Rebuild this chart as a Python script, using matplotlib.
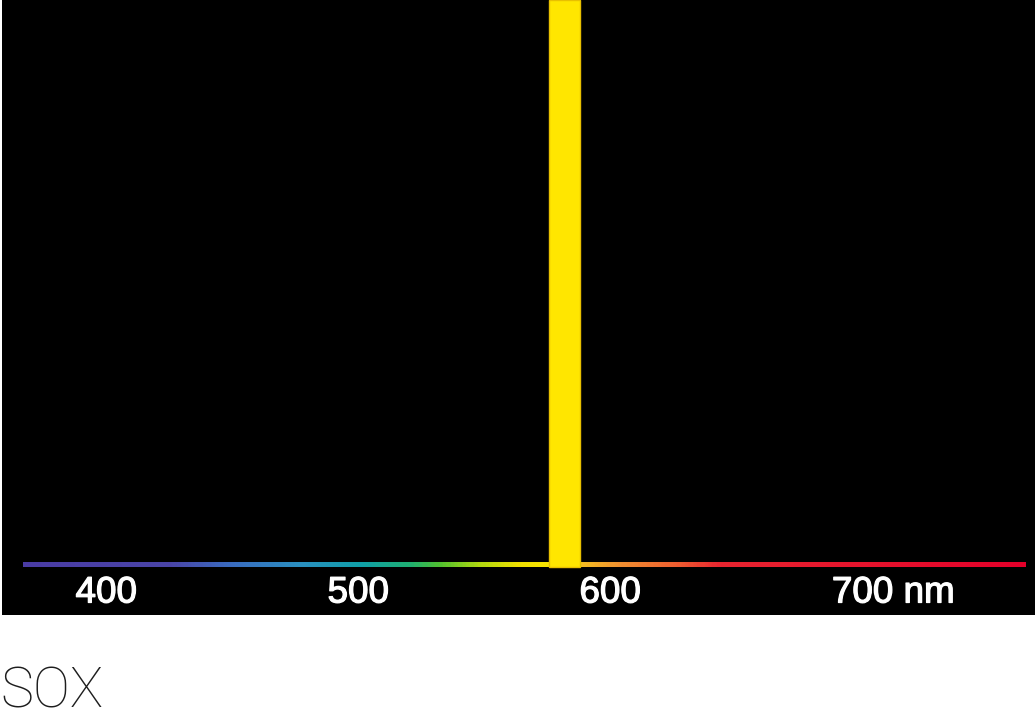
import matplotlib
matplotlib.use("Agg")
import matplotlib.pyplot as plt
import matplotlib.patheffects as pe
import numpy as np
from matplotlib.colors import LinearSegmentedColormap

# spectrum shown (nm) and the low pressure sodium emission band
spectrum_range = (367, 765)
sodium_band = (576, 588)
tick_values = [400, 500, 600, 700]
tick_labels = ["400", "500", "600", "700 nm"]
lamp_name = "SOX"

# colour stops along the spectrum bar (wavelength, colour)
stop_nm = [367, 425, 449, 477, 501, 521, 532, 548, 564, 576, 588, 604, 628, 644, 765]
stop_col = ["#4b3ca5", "#4a45a8", "#3a6cc0", "#2a90c0", "#10a0a8", "#20b070",
            "#50c030", "#b0d810", "#f0e000", "#f8e400", "#f5c020", "#f09030",
            "#ee5a30", "#e82530", "#e4002a"]

W, H = 1035, 722
fig = plt.figure(figsize=(W / 100, H / 100), dpi=100, facecolor="white")

# black panel, y axis in pixels from the bottom of the panel
ax = fig.add_axes([2 / W, (H - 615) / H, 1 - 2 / W, 615 / H])
ax.set_facecolor("black")
ax.set_xlim(358.7, 768.7)
ax.set_ylim(0, 615)
ax.set_xticks([])
ax.set_yticks([])
for s in ax.spines.values():
    s.set_visible(False)

lo, hi = spectrum_range
pos = [(v - lo) / (hi - lo) for v in stop_nm]
cmap = LinearSegmentedColormap.from_list("spec", list(zip(pos, stop_col)))
ax.imshow(np.linspace(0, 1, 600)[None, :], cmap=cmap, aspect="auto",
          extent=[lo, hi, 48, 53], interpolation="bilinear", zorder=2)

# the sodium line
ax.bar((sodium_band[0] + sodium_band[1]) / 2, 615 - 48, bottom=48,
       width=sodium_band[1] - sodium_band[0], color="#ffe600",
       edgecolor="#e8c000", linewidth=1.0, zorder=3)

thick = [pe.withStroke(linewidth=0.9, foreground="white")]
for v, lab in zip(tick_values, tick_labels):
    if lab.endswith("nm"):
        ax.annotate(lab, (v, 22), xytext=(-30, 0), textcoords="offset pixels",
                    ha="left", va="center", color="white", fontsize=26.5,
                    family=["Liberation Sans", "DejaVu Sans"], path_effects=thick)
    else:
        ax.text(v, 22, lab, ha="center", va="center", color="white",
                fontsize=26.5, family=["Liberation Sans", "DejaVu Sans"],
                path_effects=thick)

fig.text(0.0, (H - 708) / H, lamp_name, ha="left", va="baseline",
         fontsize=40, color="#1e1e1e", fontweight="light",
         family=["Roboto", "Lato", "DejaVu Sans"])

fig.savefig("out.png", dpi=100, facecolor="white")
